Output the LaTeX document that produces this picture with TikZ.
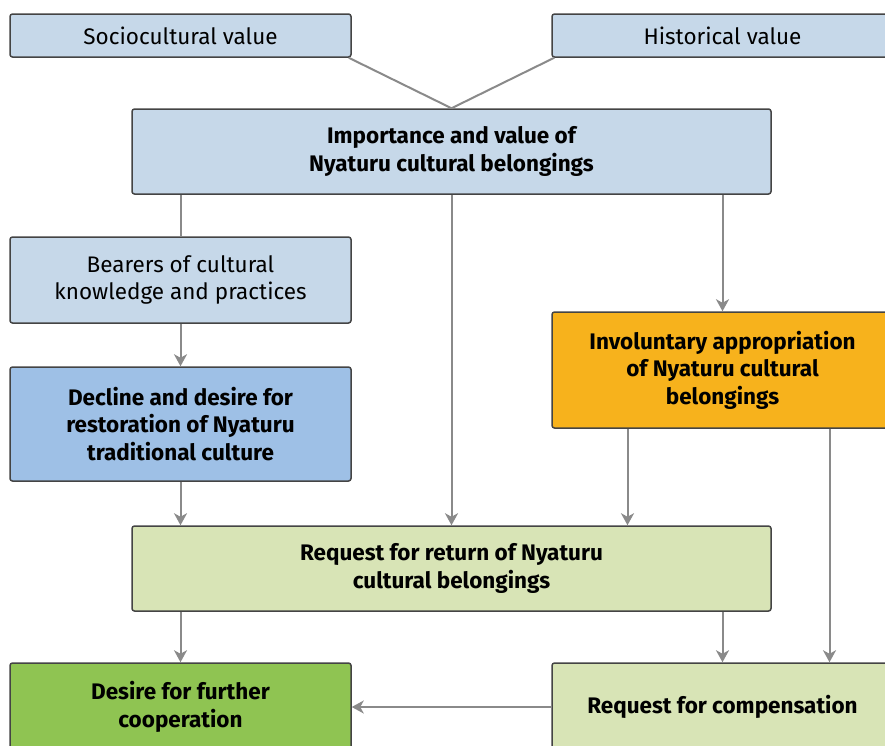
\documentclass[tikz,border=0pt]{standalone}
\usepackage{fontspec}
\setmainfont{Fira Sans}
\usetikzlibrary{arrows.meta}

\definecolor{paleblue}{HTML}{C6D8E9}
\definecolor{midblue}{HTML}{9EC0E6}
\definecolor{ambre}{HTML}{F7B21C}
\definecolor{palegreen}{HTML}{D8E4B6}
\definecolor{leafgreen}{HTML}{8FC452}
\definecolor{boxline}{HTML}{444444}
\definecolor{linkgray}{HTML}{8A8A8A}

\tikzset{
  box/.style={draw=boxline, line width=1.5pt, rounded corners=2.5pt, align=center,
    inner sep=0pt, minimum width=341pt, font=\fontsize{22.5}{27.5}\selectfont},
  boldbox/.style={box, font=\fontsize{22.5}{27.5}\selectfont\bfseries},
  widebox/.style={boldbox, minimum width=639pt, minimum height=85pt},
  link/.style={draw=linkgray, line width=2pt},
  arr/.style={link, -{Stealth[length=12pt,width=13pt,inset=3.5pt]}}
}

\begin{document}
\begin{tikzpicture}[x=1pt,y=-1pt]
    \useasboundingbox (0,0) rectangle (885,745);

    % top boxes
    \node[box, fill=paleblue, minimum height=43pt] (soc) at (180.5,35.5) {Sociocultural value};
    \node[box, fill=paleblue, minimum height=43pt] (hist) at (722.5,35.5) {Historical value};
    \node[widebox, fill=paleblue] (imp) at (451.5,151.5)
        {Importance and value of\\Nyaturu cultural belongings};

    % middle boxes
    \node[box, fill=paleblue, minimum height=86pt] (bear) at (180.5,280) {Bearers of cultural\\knowledge and practices};
    \node[boldbox, fill=midblue, minimum height=114pt] (decl) at (180.5,424)
        {Decline and desire for\\restoration of Nyaturu\\traditional culture};
    \node[boldbox, fill=ambre, minimum height=116pt] (invol) at (722.5,370)
        {Involuntary appropriation\\of Nyaturu cultural\\belongings};
    \node[widebox, fill=palegreen] (ret) at (451.5,568.5)
        {Request for return of Nyaturu\\cultural belongings};

    % bottom boxes
    \node[boldbox, fill=leafgreen, minimum height=88pt] (desire) at (180.5,707)
        {Desire for further\\cooperation};
    \node[boldbox, fill=palegreen, minimum height=88pt] (comp) at (722.5,707)
        {Request for compensation};

    % lines into the top box
    \path[link] ([xshift=-3pt]soc.south east) -- (imp.north);
    \path[link] ([xshift=3pt]hist.south west) -- (imp.north);

    % arrows
    \path[link] (imp.south -| bear.north) -- (bear.north);
    \path[arr] (bear) -- (decl);
    \path[arr] (imp) -- (ret);
    \path[arr] (imp.south -| invol.north) -- (invol.north);
    \path[arr] (decl.south) -- (decl.south |- ret.north);
    \path[arr] ([xshift=-95pt]invol.south) -- ([xshift=-95pt]invol.south |- ret.north);
    \path[arr] ([xshift=107pt]invol.south) -- ([xshift=107pt]invol.south |- comp.north);
    \path[arr] (ret.south -| desire.north) -- (desire.north);
    \path[arr] (ret.south -| comp.north) -- (comp.north);
    \path[arr] (comp) -- (desire);

\end{tikzpicture}
\end{document}
